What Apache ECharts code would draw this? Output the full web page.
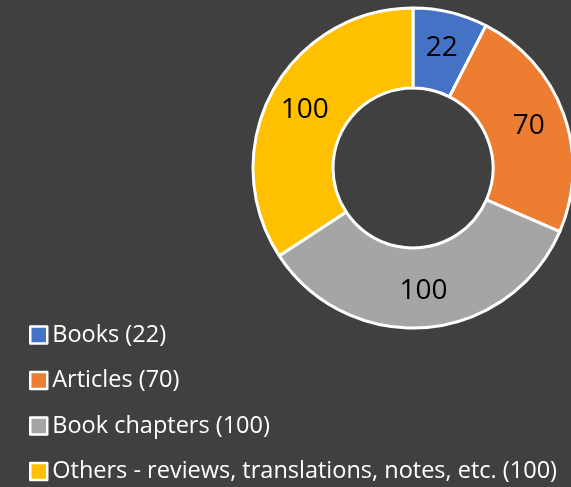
<!DOCTYPE html>
<html>
<head>
<meta charset="utf-8">
<script src="https://cdn.jsdelivr.net/npm/echarts@6/dist/echarts.min.js"></script>
<style>
  html, body { margin: 0; padding: 0; background: #404040; }
  #chart { width: 571px; height: 487px; }
</style>
</head>
<body>
<div id="chart"></div>
<script>
const categories = ['Books', 'Articles', 'Book chapters', 'Others - reviews, translations, notes, etc.'];
const counts = [22, 70, 100, 100];
const colors = ['#4472c4', '#ed7d31', '#a5a5a5', '#ffc000'];

const chart = echarts.init(document.getElementById('chart'));

chart.setOption({
  backgroundColor: '#404040',
  animation: false,
  legend: {
    orient: 'vertical',
    left: 24,
    top: 318,
    height: 200,
    itemWidth: 17,
    itemHeight: 17,
    itemGap: 21.5,
    icon: 'rect',
    itemStyle: { borderColor: '#fff', borderWidth: 2.5 },
    textStyle: { color: '#fff', fontSize: 23.5, fontFamily: 'Open Sans', lineHeight: 24 },
    formatter: name => `${name} (${counts[categories.indexOf(name)]})`,
    data: categories
  },
  series: [{
    type: 'pie',
    radius: [80, 160],
    center: [413, 168],
    startAngle: 90,
    clockwise: true,
    label: {
      position: 'inside',
      formatter: '{c}',
      color: '#000',
      fontSize: 28,
      fontFamily: 'Open Sans'
    },
    labelLine: { show: false },
    itemStyle: { borderColor: '#fff', borderWidth: 3 },
    emphasis: { disabled: true },
    data: categories.map((c, i) => ({
      name: c,
      value: counts[i],
      itemStyle: { color: colors[i] }
    }))
  }]
});
</script>
</body>
</html>
